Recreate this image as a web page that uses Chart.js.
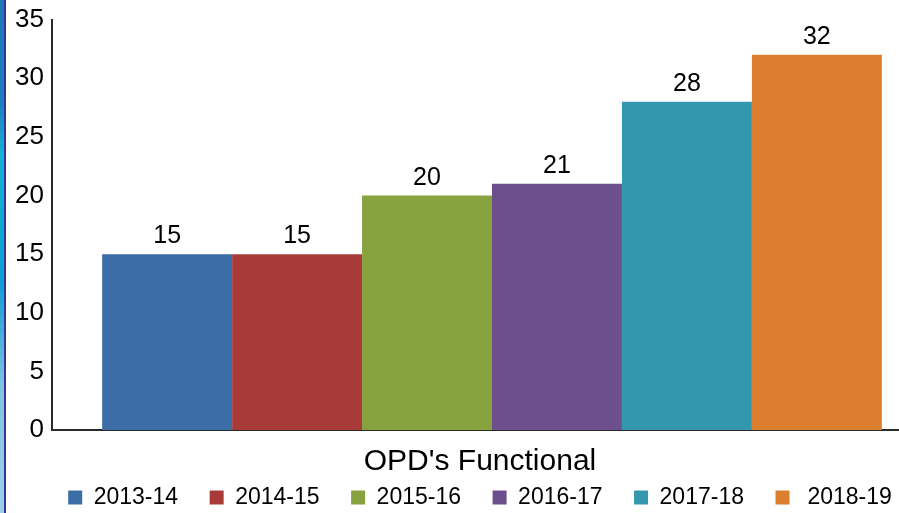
<!DOCTYPE html>
<html>
<head>
<meta charset="utf-8">
<script src="https://cdn.jsdelivr.net/npm/chart.js@4"></script>
<style>
  html, body { margin: 0; padding: 0; background: #fff; overflow: hidden; }
  #wrap { position: relative; width: 960px; height: 513px; }
  #strip {
    position: absolute; left: 0; top: 0; width: 4px; height: 513px; z-index: 2;
    background: linear-gradient(to bottom, #1f78b8 0%, #1b7fc0 20%, #17b0d8 30%, #10a6d2 45%, #0f9cd6 55%, #7fc3e3 75%, #9fd0ea 100%);
    border-right: 2px solid #34358f;
  }
</style>
</head>
<body>
<div id="wrap">
  <div id="strip"></div>
  <canvas id="chart" width="960" height="513"></canvas>
</div>
<script>
// values
const categories = ["OPD's Functional"];
const years = ["2013-14", "2014-15", "2015-16", "2016-17", "2017-18", "2018-19"];
const opdValues = [15, 15, 20, 21, 28, 32];
const yTicks = [0, 5, 10, 15, 20, 25, 30, 35];
const barColors = ["#3b6ea6", "#a83a37", "#86a340", "#6c4f8c", "#3398ae", "#db7e2d"];

const FONT = "'Liberation Sans', Arial, sans-serif";

// draws the value above every bar
const valueLabels = {
  id: "valueLabels",
  afterDatasetsDraw(chart) {
    const ctx = chart.ctx;
    ctx.save();
    ctx.font = "25px " + FONT;
    ctx.fillStyle = "#000";
    ctx.textAlign = "center";
    ctx.textBaseline = "alphabetic";
    chart.data.datasets.forEach((ds, i) => {
      const meta = chart.getDatasetMeta(i);
      meta.data.forEach((bar, j) => {
        ctx.fillText(String(ds.data[j]), bar.x, bar.y - 11);
      });
    });
    ctx.restore();
  },
};

const datasets = years.map((y, i) => ({
  label: y,
  data: [opdValues[i]],
  backgroundColor: barColors[i],
  borderWidth: 0,
  categoryPercentage: 0.886,
  barPercentage: 1,
}));

new Chart(document.getElementById("chart"), {
  type: "bar",
  data: { labels: categories, datasets },
  plugins: [valueLabels],
  options: {
    responsive: false,
    animation: false,
    layout: { padding: { top: 7, bottom: -6, left: 0, right: 0 } },
    scales: {
      x: {
        grid: { display: false, drawTicks: false },
        border: { display: true, color: "#2a2a2a", width: 2 },
        ticks: { display: false },
        afterFit(scale) { scale.height = 12; },
      },
      y: {
        min: 0,
        max: 35,
        afterBuildTicks(scale) { scale.ticks = yTicks.map((v) => ({ value: v })); },
        grid: { display: false, drawTicks: false },
        border: { display: true, color: "#2a2a2a", width: 2 },
        ticks: { color: "#000", font: { family: FONT, size: 26, lineHeight: 0.9 }, padding: 8 },
        afterFit(scale) { scale.width = 52; },
      },
      yRight: {
        position: "right",
        display: true,
        grid: { display: false, drawTicks: false },
        border: { display: false },
        ticks: { display: false },
        afterFit(scale) { scale.width = 28; },
      },
    },
    plugins: {
      tooltip: { enabled: false },
      title: {
        display: true,
        position: "bottom",
        text: "OPD's Functional",
        color: "#000",
        weight: 500,
        font: { family: FONT, size: 30, weight: "normal" },
        padding: { top: 2, bottom: 0 },
      },
      legend: {
        position: "bottom",
        labels: {
          color: "#000",
          font: { family: FONT, size: 23 },
          boxWidth: 14,
          boxHeight: 14,
          padding: 6,
          // trailing spaces widen the gap between items without making the legend taller
          generateLabels(chart) {
            const items = Chart.defaults.plugins.legend.labels.generateLabels(chart);
            items.forEach((it, i) => {
              it.text = i < items.length - 1 ? it.text + "    " : " " + it.text;
            });
            return items;
          },
        },
      },
    },
  },
});
</script>
</body>
</html>
